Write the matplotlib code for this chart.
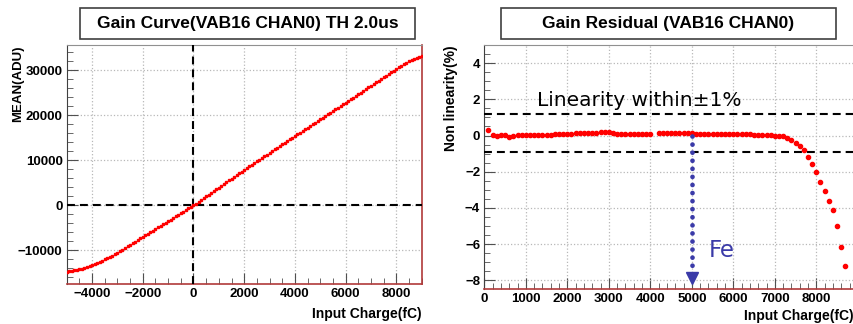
import matplotlib
matplotlib.use("Agg")
import matplotlib.pyplot as plt
import matplotlib.patches as patches
from matplotlib.ticker import MultipleLocator

plt.rcParams['font.family'] = ['Liberation Sans', 'DejaVu Sans']
plt.rcParams['font.weight'] = 'bold'
plt.rcParams['axes.labelweight'] = 'bold'

# ---- gain curve data (fC, ADU) ----
charge = list(range(-5000, 9001, 100))
mean_adu = [
    -14750, -14660, -14560, -14450, -14330, -14200, -14050, -13890, -13710, -13500,
    -13270, -13040, -12800, -12550, -12290, -12020, -11740, -11460, -11170, -10870,
    -10570, -10210, -9850, -9490, -9130, -8780, -8420, -8060, -7710, -7350,
    -7000, -6650, -6300, -5950, -5600, -5250, -4900, -4550, -4200, -3850,
    -3500, -3150, -2800, -2450, -2100, -1750, -1400, -1050, -700, -350,
    0, 400, 790, 1190, 1580, 1980, 2370, 2770, 3160, 3560,
    3950, 4350, 4740, 5140, 5530, 5930, 6320, 6720, 7110, 7510,
    7900, 8280, 8650, 9030, 9400, 9780, 10150, 10530, 10900, 11280,
    11650, 12030, 12400, 12780, 13150, 13530, 13900, 14280, 14650, 15030,
    15400, 15770, 16140, 16510, 16880, 17250, 17620, 17990, 18360, 18730,
    19100, 19470, 19840, 20210, 20580, 20950, 21320, 21690, 22060, 22430,
    22800, 23180, 23550, 23930, 24300, 24680, 25050, 25430, 25800, 26180,
    26550, 26930, 27300, 27680, 28050, 28430, 28800, 29180, 29550, 29930,
    30300, 30650, 31000, 31330, 31650, 31950, 32230, 32480, 32700, 32900,
    33050,
]

# ---- residual data (fC, %) ----
res_charge = [x for x in range(100, 8701, 100) if x != 4100]
residual = [
    0.28, 0.05, 0.00, 0.02, 0.02, -0.09, 0.00, 0.04, 0.05, 0.04,
    0.04, 0.04, 0.04, 0.04, 0.04, 0.05, 0.06, 0.08, 0.10, 0.11,
    0.11, 0.12, 0.12, 0.12, 0.13, 0.13, 0.15, 0.17, 0.19, 0.20,
    0.16, 0.09, 0.10, 0.11, 0.11, 0.11, 0.11, 0.11, 0.11, 0.11,
    0.12, 0.12, 0.12, 0.12, 0.12, 0.12, 0.12, 0.12, 0.12,
    0.11, 0.11, 0.10, 0.10, 0.10, 0.10, 0.10, 0.10, 0.10, 0.10,
    0.09, 0.08, 0.07, 0.06, 0.05, 0.04, 0.03, 0.02, 0.01, 0.00,
    -0.02, -0.05, -0.15, -0.27, -0.42, -0.60, -0.82, -1.19, -1.59,
    -2.03, -2.54, -3.06, -3.59, -4.10, -4.98, -6.13, -7.18,
]
limit_hi = 1.2
limit_lo = -0.9
fe_charge = 5000

fig = plt.figure(figsize=(8.54, 3.24), dpi=100)
frame_red = "#b03a3a"
dash = (0, (3.8, 2.4))


def style_axes(ax):
    ax.grid(True, which='major', color='#b8b8b8', ls=':', lw=0.9)
    ax.tick_params(which='both', direction='in', top=False, right=False,
                   labelsize=9.5, pad=3, color='#505050')
    ax.tick_params(which='major', length=8, width=0.8)
    ax.tick_params(which='minor', length=4, width=0.6)
    ax.spines['top'].set_color('#909090')
    ax.spines['top'].set_linewidth(0.8)
    ax.spines['left'].set_color('#404040')
    ax.spines['bottom'].set_color(frame_red)
    ax.spines['right'].set_color(frame_red)
    ax.spines['bottom'].set_linewidth(1.2)
    ax.spines['right'].set_linewidth(1.2)
    for lab in ax.get_xticklabels() + ax.get_yticklabels():
        lab.set_fontweight('bold')


# ---- left: gain curve ----
ax1 = fig.add_axes([0.0781, 0.1244, 0.4157, 0.7367])
ax1.set_xlim(-5000, 9000)
ax1.set_ylim(-17400, 35600)
ax1.xaxis.set_major_locator(MultipleLocator(2000))
ax1.xaxis.set_minor_locator(MultipleLocator(500))
ax1.yaxis.set_major_locator(MultipleLocator(10000))
ax1.yaxis.set_minor_locator(MultipleLocator(2000))
style_axes(ax1)
ax1.axhline(0, color='black', lw=1.5, ls=dash, zorder=3)
ax1.axvline(0, color='black', lw=1.5, ls=dash, zorder=3)
ax1.plot(charge, mean_adu, ls='none', marker='s', ms=1.8, color='red',
         mec='red', zorder=4)
ax1.set_xlabel('Input Charge(fC)', fontsize=10, loc='right', labelpad=5)
ax1.set_ylabel('MEAN(ADU)', fontsize=9.5, loc='top')
ax1.yaxis.set_label_coords(-0.12, 1.0)

# ---- right: residual ----
ax2 = fig.add_axes([0.5671, 0.109, 0.4325, 0.752])
ax2.set_xlim(0, 8900)
ax2.set_ylim(-8.46, 5)
ax2.xaxis.set_major_locator(MultipleLocator(1000))
ax2.xaxis.set_minor_locator(MultipleLocator(200))
ax2.yaxis.set_major_locator(MultipleLocator(2))
ax2.yaxis.set_minor_locator(MultipleLocator(0.5))
style_axes(ax2)
ax2.axhline(limit_hi, color='black', lw=1.5, ls=dash, zorder=3)
ax2.axhline(limit_lo, color='black', lw=1.5, ls=dash, zorder=3)
ax2.plot(res_charge, residual, ls='none', marker='o', ms=3.0, color='red',
         mec='red', zorder=4)
ax2.plot([fe_charge, fe_charge], [-0.05, -7.3], color='#3a3aa8', lw=3.4,
         ls=(0, (0.01, 1.7)), dash_capstyle='round', zorder=5)
ax2.plot([fe_charge], [-7.85], marker='v', ms=9, color='#3a3aa8', zorder=5,
         clip_on=False)
ax2.text(5420, -6.35, 'Fe', color='#3a3aa8', fontsize=16.5, fontweight='normal',
         family='DejaVu Sans', va='center', ha='left')
ax2.text(1260, 1.95, 'Linearity within\u00b11%', color='black', fontsize=14.5,
         fontweight='normal', family='DejaVu Sans', va='center', ha='left')
ax2.set_xlabel('Input Charge(fC)', fontsize=10, loc='right', labelpad=3)
ax2.set_ylabel('Non linearity(%)', fontsize=10, loc='top')
ax2.yaxis.set_label_coords(-0.07, 1.0)

# ---- title boxes ----
for (x0, x1, txt) in [(80, 415, 'Gain Curve(VAB16 CHAN0) TH 2.0us'),
                      (501, 836, 'Gain Residual (VAB16 CHAN0)')]:
    rect = patches.Rectangle((x0 / 854, 1 - 39 / 324), (x1 - x0) / 854, 31 / 324,
                             transform=fig.transFigure, fill=True, fc='white',
                             ec='#404040', lw=1.2)
    fig.patches.append(rect)
    fig.text((x0 + x1) / 2 / 854, 1 - 23.5 / 324, txt, fontsize=12.5,
             ha='center', va='center')

fig.savefig('out.png', dpi=100)
